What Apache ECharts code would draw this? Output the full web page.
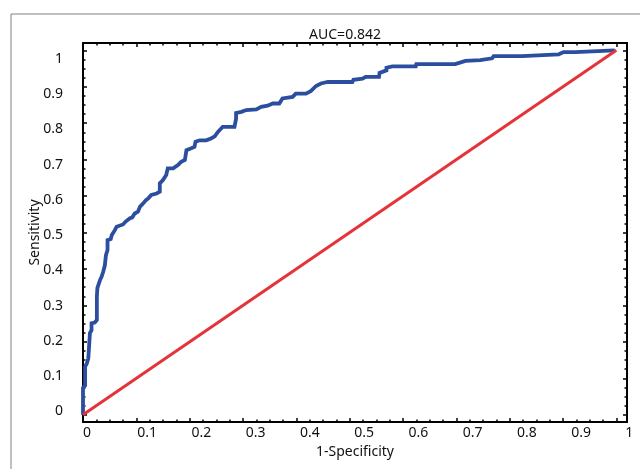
<!DOCTYPE html>
<html>
<head>
<meta charset="utf-8">
<script src="https://cdn.jsdelivr.net/npm/echarts@6/dist/echarts.min.js"></script>
<style>html,body{margin:0;padding:0;background:#fff}#c{width:640px;height:469px}</style>
</head>
<body>
<div id="c"></div>
<script>
// ROC curve (1-Specificity, Sensitivity)
const rocX = [0,0,0.004,0.004,0.007,0.010,0.012,0.013,0.016,0.016,0.022,0.026,0.026,0.027,0.032,0.035,0.038,0.041,0.043,0.046,0.046,0.052,0.054,0.057,0.060,0.063,0.066,0.075,0.080,0.088,0.092,0.097,0.103,0.107,0.113,0.118,0.122,0.128,0.138,0.144,0.144,0.150,0.156,0.159,0.169,0.178,0.184,0.191,0.194,0.203,0.209,0.211,0.219,0.231,0.240,0.247,0.253,0.262,0.284,0.287,0.287,0.297,0.306,0.325,0.334,0.346,0.356,0.368,0.374,0.393,0.399,0.418,0.427,0.437,0.446,0.459,0.505,0.507,0.524,0.530,0.555,0.556,0.569,0.569,0.580,0.624,0.625,0.698,0.717,0.745,0.748,0.767,0.770,0.823,0.826,0.892,0.901,0.923,0.924,0.997];
const rocY = [0,0.074,0.08,0.132,0.14,0.155,0.16,0.224,0.232,0.251,0.253,0.26,0.324,0.348,0.37,0.379,0.393,0.41,0.438,0.452,0.479,0.482,0.493,0.50,0.507,0.516,0.52,0.522,0.53,0.539,0.541,0.552,0.557,0.571,0.58,0.589,0.593,0.603,0.607,0.612,0.635,0.644,0.658,0.676,0.676,0.685,0.694,0.699,0.726,0.731,0.735,0.749,0.753,0.753,0.758,0.764,0.776,0.79,0.79,0.812,0.828,0.831,0.836,0.838,0.845,0.848,0.854,0.854,0.868,0.872,0.881,0.881,0.888,0.902,0.909,0.913,0.913,0.919,0.922,0.927,0.927,0.938,0.945,0.952,0.956,0.956,0.962,0.962,0.971,0.973,0.978,0.978,0.984,0.984,0.989,0.989,0.995,0.995,1.0,1.0];
// reference (chance) line
const refX = [0, 1];
const refY = [0, 1];
// ticks and labels
const majorTicks = [0,0.1,0.2,0.3,0.4,0.5,0.6,0.7,0.8,0.9,1];
const tickLabels = ['0','0.1','0.2','0.3','0.4','0.5','0.6','0.7','0.8','0.9','1'];
const minorTicks = [];
for (let i = 0; i <= 40; i++) { if (i % 4 !== 0) minorTicks.push(+(i * 0.025).toFixed(3)); }

const rocData = rocX.map((x, i) => [x, rocY[i]]);
const refData = refX.map((x, i) => [x, refY[i]]);

const FONT = 'Noto Sans';
const FS = 14;
const lineStyle = { color: '#000', width: 2 };
function tickAxis(pos, min, max, vals, len, showLine) {
  return {
    type: 'value', position: pos, min: min, max: max, gridIndex: 0,
    axisLine: { show: showLine, onZero: false, lineStyle: lineStyle },
    axisTick: { show: true, inside: true, length: len, customValues: vals, lineStyle: { color: '#000', width: 1.5 } },
    axisLabel: { show: false },
    splitLine: { show: false }
  };
}
const labelMap = {};
majorTicks.forEach((v, i) => { labelMap[v.toFixed(1)] = tickLabels[i]; });

const chart = echarts.init(document.getElementById('c'), null, { renderer: 'canvas' });
chart.setOption({
  animation: false,
  backgroundColor: '#fff',
  textStyle: { fontFamily: FONT },
  title: {
    text: 'AUC=0.842', left: 340, top: 23, textAlign: 'center',
    textStyle: { fontFamily: FONT, fontSize: FS, fontWeight: 'normal', color: '#111' }
  },
  graphic: [{
    type: 'rect', shape: { x: 11, y: 14, width: 700, height: 500 },
    style: { fill: 'none', stroke: '#808080', lineWidth: 1 }, silent: true, z: -1
  }],
  grid: { left: 83, right: 13, top: 43, bottom: 47 },
  xAxis: [
    tickAxis('bottom', 0, 1.02, majorTicks, 4, true),
    tickAxis('top', 0, 1.02, majorTicks, 4, true),
    tickAxis('bottom', 0, 1.02, minorTicks, 2.5, false),
    tickAxis('top', 0, 1.02, minorTicks, 2.5, false),
    {
      type: 'value', position: 'bottom', min: 0, max: 1.003,
      axisLine: { show: false }, axisTick: { show: false }, splitLine: { show: false },
      axisLabel: {
        show: true, customValues: majorTicks, align: 'left', margin: 4,
        fontFamily: FONT, fontSize: FS, color: '#111',
        formatter: v => labelMap[v.toFixed(1)]
      },
      name: '1-Specificity', nameLocation: 'middle', nameGap: 23, nameMoveOverlap: false,
      nameTextStyle: { fontFamily: FONT, fontSize: FS, color: '#111' }
    }
  ],
  yAxis: [
    tickAxis('left', -0.02, 1.02, majorTicks, 4, true),
    tickAxis('right', -0.02, 1.02, majorTicks, 4, true),
    tickAxis('left', -0.02, 1.02, minorTicks, 2.5, false),
    tickAxis('right', -0.02, 1.02, minorTicks, 2.5, false),
    {
      type: 'value', position: 'left', min: -0.0298, max: 1.0454,
      axisLine: { show: false }, axisTick: { show: false }, splitLine: { show: false },
      axisLabel: {
        show: true, customValues: majorTicks, align: 'right', margin: 20,
        fontFamily: FONT, fontSize: FS, color: '#111',
        formatter: v => labelMap[v.toFixed(1)]
      },
      name: 'Sensitivity', nameLocation: 'middle', nameGap: 41, nameRotate: 90, nameMoveOverlap: false,
      nameTextStyle: { fontFamily: FONT, fontSize: FS, color: '#111' }
    }
  ],
  series: [
    {
      type: 'line', data: refData, xAxisIndex: 0, yAxisIndex: 0,
      showSymbol: false, symbol: 'none',
      lineStyle: { color: '#e5333a', width: 3 }, z: 3
    },
    {
      type: 'line', data: rocData, xAxisIndex: 0, yAxisIndex: 0,
      showSymbol: false, symbol: 'none',
      lineStyle: { color: '#2c4e9f', width: 3.8, join: 'miter' }, z: 2
    }
  ]
});
</script>
</body>
</html>
